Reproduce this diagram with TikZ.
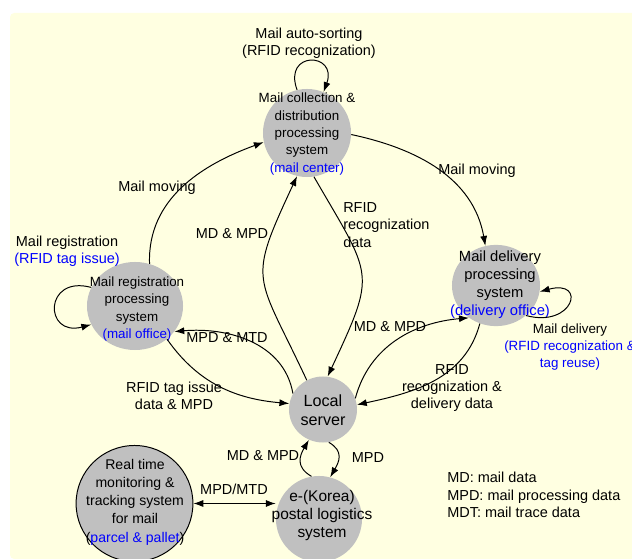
\documentclass[tikz,border=0pt]{standalone}
\usepackage{fontspec}
\setmainfont{Liberation Sans}
\usetikzlibrary{shapes.geometric,arrows.meta}
\definecolor{bgyellow}{RGB}{255,255,225}
\definecolor{sysgray}{RGB}{192,192,192}
\definecolor{tagblue}{RGB}{0,0,255}
\newcommand{\bluetxt}[1]{\textcolor{tagblue}{#1}}

\begin{document}
\begin{tikzpicture}[x=0.025cm, y=0.025cm, line join=round,
    sys/.style={ellipse, fill=sysgray, inner sep=0},
    systxt/.style={align=center, inner sep=0, font=\fontsize{9.5}{12.4}\selectfont},
    lbl/.style={align=center, inner sep=0, font=\fontsize{10.3}{12.4}\selectfont},
    flow/.style={-{Latex[length=7pt,width=5pt]}, line width=0.7pt},
    both/.style={{Latex[length=7pt,width=5pt]}-{Latex[length=7pt,width=5pt]}, line width=0.7pt}]
    \useasboundingbox (0,0) rectangle (632,559);
    \fill[bgyellow, rounded corners=3] (10,0) rectangle (650,546);

    % Systems
    \node[sys, minimum width=2.2cm, minimum height=2.2cm] (mailcenter) at (307,426) {};
    \node[sys, minimum width=2.4cm, minimum height=2.2cm] (mailoffice) at (135,253) {};
    \node[sys, minimum width=2.2cm, minimum height=2.03cm] (delivery) at (496,273.5) {};
    \node[sys, minimum width=1.7cm, minimum height=1.65cm] (server) at (323,149.5) {};
    \node[sys, minimum width=2.15cm, minimum height=2.15cm] (postal) at (319,40) {};
    \node[sys, draw=black, line width=0.7pt, minimum width=2.92cm, minimum height=2.9cm] (monitor) at (134.5,55.5) {};

    \node[systxt] (mailcenter-t) at (307,425) {Mail collection \&\\distribution\\processing\\system\\\bluetxt{(mail center)}};
    \node[systxt] (mailoffice-t) at (137,250) {Mail registration\\processing\\system\\\bluetxt{(mail office)}};
    \node[systxt, font=\fontsize{10.5}{12.8}\selectfont] (delivery-t) at (500,274.5) {Mail delivery\\processing\\system\\\bluetxt{(delivery office)}};
    \node[systxt, font=\fontsize{11.5}{13.5}\selectfont] (server-t) at (323,148.5) {Local\\server};
    \node[systxt, font=\fontsize{11}{12.8}\selectfont] (postal-t) at (322,43) {e-(Korea)\\postal logistics\\system};
    \node[systxt, font=\fontsize{10}{13}\selectfont] (monitor-t) at (135,57) {Real time\\monitoring \&\\tracking system\\for mail\\(\bluetxt{parcel \& pallet})};

    % Self loops
    \draw[flow] (mailcenter.103) to[out=110, in=70, distance=30] (mailcenter.68);
    \draw[flow] (mailoffice.157) to[out=165, in=195, distance=35] (mailoffice.203);
    \draw[flow] (delivery.-45) to[out=-15, in=15, distance=35] (delivery.-8);

    % Flows
    \draw[flow] (mailoffice.71) to[out=92, in=200] (mailcenter.192);
    \draw[flow] (mailcenter.-2) to[out=-12, in=100] (delivery.105);
    \draw[flow] (server.119) to[out=115, in=245, looseness=1.5] (mailcenter.257);
    \draw[flow] (mailcenter.279) to[out=-60, in=65, looseness=1.5] (server.82);
    \draw[flow] (server.152) to[out=100, in=5] (mailoffice.-33);
    \draw[flow] (mailoffice.-46) to[out=-55, in=175] (server.170);
    \draw[flow] (server.19) to[out=75, in=185] (delivery.230);
    \draw[flow] (delivery.247) to[out=255, in=12] (server.8);
    \draw[flow] (server.-80) to[out=-30, in=60, looseness=1.3] (postal.75);
    \draw[flow] (postal.100) to[out=150, in=240, looseness=1.3] (server.245);
    \draw[both] (monitor.east) -- (postal.west |- monitor.east);

    % Labels
    \node[lbl] (sorting) at (309,515.5) {Mail auto-sorting\\(RFID recognization)};
    \node[lbl] (registration) at (67,307.5) {Mail registration\\\bluetxt{(RFID tag issue)}};
    \node[lbl] (moving-l) at (157,371) {Mail moving};
    \node[lbl] (moving-r) at (477,388) {Mail moving};
    \node[lbl] (mdmpd-l) at (232,325) {MD \& MPD};
    \node[lbl, align=left, anchor=west] (recog) at (343,334) {RFID\\recognization\\data};
    \node[lbl] (mdmpd-r) at (390,232) {MD \& MPD};
    \node[lbl] (mpdmtd) at (227,221) {MPD \& MTD};
    \node[lbl] (tagissue) at (174,163) {RFID tag issue\\data \& MPD};
    \node[lbl] (recogdel) at (452,171) {RFID\\recognization \&\\delivery data};
    \node[lbl, font=\fontsize{9.5}{12.4}\selectfont] (maildel) at (570,212) {Mail delivery\\\bluetxt{(RFID recognization \&}\\\bluetxt{tag reuse)}};
    \node[lbl] (mdmpd-b) at (263,103) {MD \& MPD};
    \node[lbl] (mpd-b) at (368,101) {MPD};
    \node[lbl] (mpdmtd-b) at (234,70) {MPD/MTD};
    \node[lbl, align=left, anchor=west] (legend) at (447,64) {MD: mail data\\MPD: mail processing data\\MDT: mail trace data};
\end{tikzpicture}
\end{document}
